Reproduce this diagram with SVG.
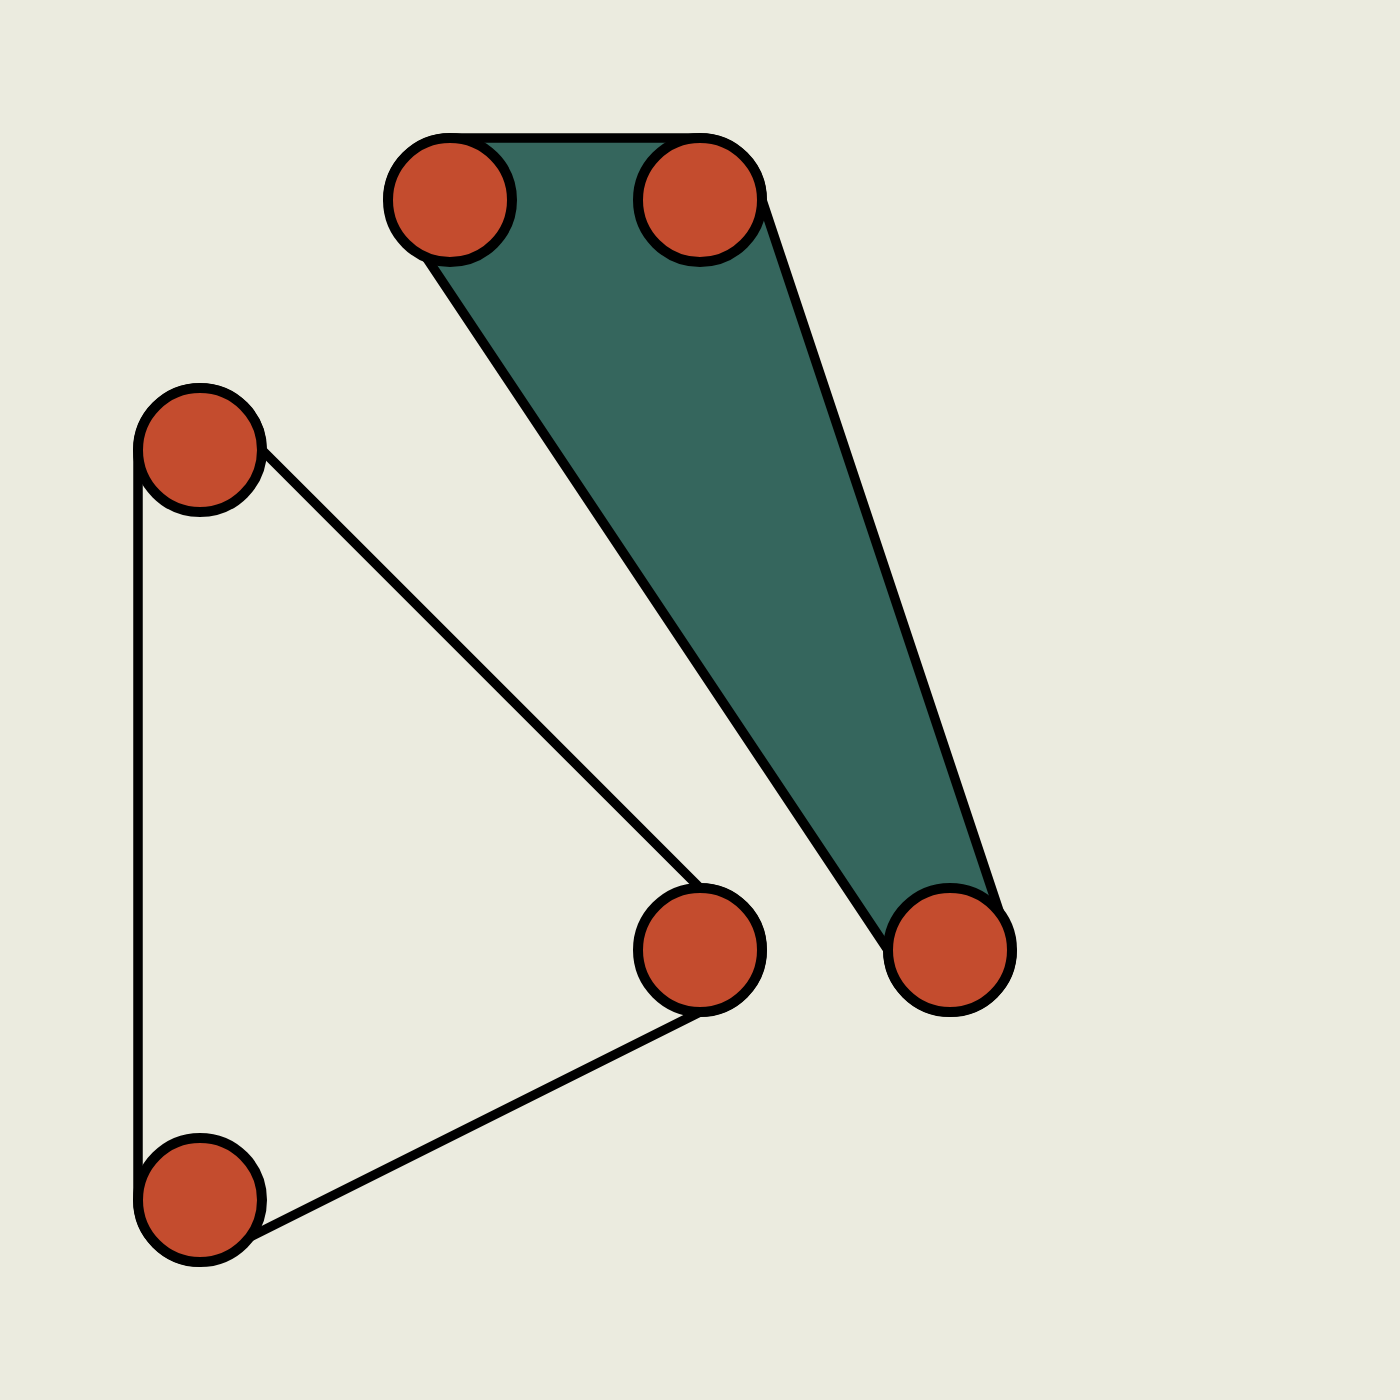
<svg xmlns="http://www.w3.org/2000/svg" width="1400" height="1400" viewBox="0 0 1400 1400">
<style>
.hull{stroke:#000;stroke-width:9.5;stroke-linejoin:round}
.node{fill:#C44C2E;stroke:#000;stroke-width:10}
</style>
<rect width="1400" height="1400" fill="#EBEBDF"/>
<g id="connectors">
<path class="hull" fill="#35665D" d="M450,138 L700,138 A62,62 0 0 1 762,200 L1012,950 A62,62 0 0 1 888,950 L388,200 A62,62 0 0 1 450,138 Z"/>
<path class="hull" fill="none" d="M200,388 A62,62 0 0 1 262,450 L700,888 A62,62 0 0 1 762,950 A62,62 0 0 1 700,1012 L200,1262 A62,62 0 0 1 138,1200 L138,450 A62,62 0 0 1 200,388 Z"/>
</g>
<g id="n1"><circle class="node" cx="450" cy="200" r="62"/></g>
<g id="n2"><circle class="node" cx="700" cy="200" r="62"/></g>
<g id="n3"><circle class="node" cx="200" cy="450" r="62"/></g>
<g id="n4"><circle class="node" cx="700" cy="950" r="62"/></g>
<g id="n5"><circle class="node" cx="950" cy="950" r="62"/></g>
<g id="n6"><circle class="node" cx="200" cy="1200" r="62"/></g>
</svg>
